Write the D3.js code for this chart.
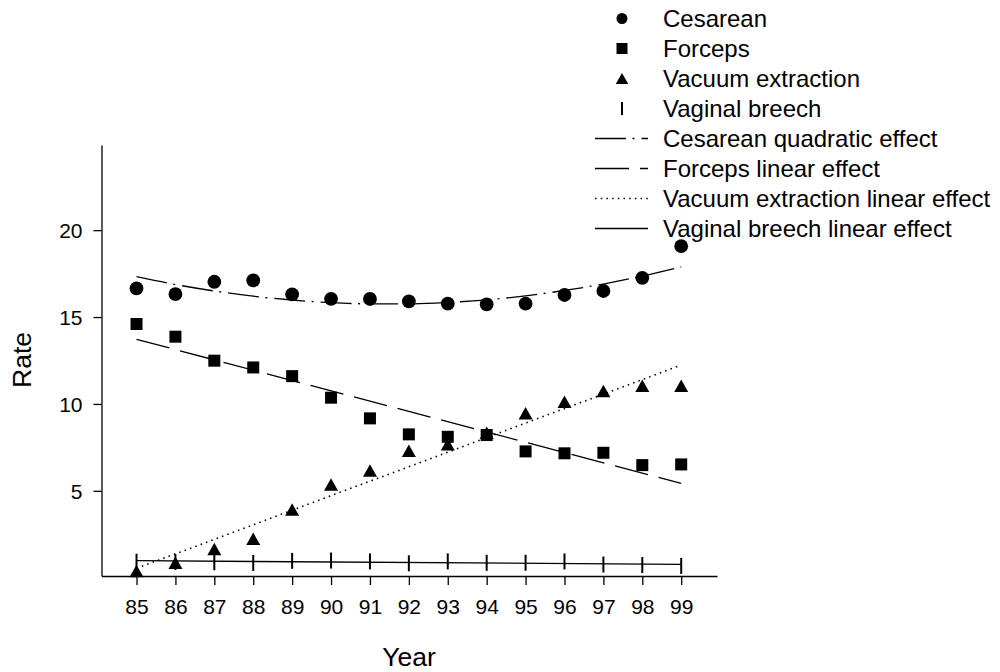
<!DOCTYPE html>
<html>
<head>
<meta charset="utf-8">
<script src="https://cdn.jsdelivr.net/npm/d3@7"></script>
<style>
  html, body { margin: 0; padding: 0; background: #fff; }
  svg { display: block; font-family: "Liberation Sans", Arial, sans-serif; }
</style>
</head>
<body>
<svg id="chart" width="1000" height="672"></svg>
<script>
// ---- data ----
const years = [85, 86, 87, 88, 89, 90, 91, 92, 93, 94, 95, 96, 97, 98, 99];
const cesarean = [16.65, 16.32, 17.03, 17.11, 16.31, 16.05, 16.04, 15.9, 15.77, 15.73, 15.77, 16.27, 16.5, 17.26, 19.08];
const forceps = [14.6, 13.87, 12.49, 12.1, 11.6, 10.36, 9.17, 8.25, 8.11, 8.21, 7.27, 7.16, 7.19, 6.48, 6.52];
const vacuum = [0.39, 0.86, 1.66, 2.24, 3.92, 5.36, 6.17, 7.3, 7.68, 8.34, 9.47, 10.12, 10.75, 11.04, 11.04];
const breech = [0.92, 0.9, 0.89, 0.85, 0.97, 0.99, 0.94, 0.83, 0.94, 0.86, 0.86, 0.94, 0.76, 0.73, 0.68];
const cesareanFit = [17.32, 16.87, 16.50, 16.20, 15.98, 15.83, 15.76, 15.76, 15.84, 15.99, 16.22, 16.53, 16.90, 17.36, 17.89];
const fitYears = [85, 99];
const forcepsFit = [13.72, 5.43];
const vacuumFit = [0.54, 12.24];
const breechFit = [0.98, 0.77];
const yTicks = [5, 10, 15, 20];
const legendLabels = ["Cesarean", "Forceps", "Vacuum extraction", "Vaginal breech",
  "Cesarean quadratic effect", "Forceps linear effect", "Vacuum extraction linear effect", "Vaginal breech linear effect"];

// ---- drawing ----
const svg = d3.select("#chart");
const x = d3.scaleLinear().domain([84.1, 99.92]).range([101.5, 717]);
const y = d3.scaleLinear().domain([0.1, 24.9]).range([576, 145]);

const fontTick = 21;

// axes
const gx = svg.append("g").attr("transform", `translate(0,${y.range()[0]})`)
  .call(d3.axisBottom(x).tickValues(years).tickSize(9).tickSizeOuter(0).tickFormat(d => d));
gx.selectAll("text").attr("y", 31).attr("dy", "0.35em").attr("font-size", fontTick)
  .attr("font-family", "Liberation Sans, Arial, sans-serif").attr("fill", "#000");
const gy = svg.append("g").attr("transform", `translate(${x.range()[0]},0)`)
  .call(d3.axisLeft(y).tickValues(yTicks).tickSize(8).tickSizeOuter(0).tickFormat(d => d));
gy.selectAll("text").attr("x", -19).attr("dy", "0.35em").attr("font-size", fontTick)
  .attr("font-family", "Liberation Sans, Arial, sans-serif").attr("fill", "#000");
svg.selectAll(".domain, .tick line").attr("stroke", "#000").attr("stroke-width", 1.3);

// axis titles
svg.append("text").attr("x", 409).attr("y", 657).attr("dy", "0.35em")
  .attr("text-anchor", "middle").attr("font-size", 26.5).text("Year");
svg.append("text").attr("transform", "translate(22,360) rotate(-90)").attr("dy", "0.35em")
  .attr("text-anchor", "middle").attr("font-size", 26.5).text("Rate");

// fit lines
const lineStyles = {
  ces: "31,6.5,2,7",
  forc: "34,11",
  vac: "1.5,4.2",
  br: null
};
const curveLine = d3.line().x(d => x(d[0])).y(d => y(d[1])).curve(d3.curveMonotoneX);
const lines = svg.append("g").attr("fill", "none").attr("stroke", "#000").attr("stroke-width", 1.3);
lines.append("path").attr("d", curveLine(years.map((yr, i) => [yr, cesareanFit[i]])))
  .attr("stroke-dasharray", lineStyles.ces);
lines.append("path").attr("d", curveLine(fitYears.map((yr, i) => [yr, forcepsFit[i]])))
  .attr("stroke-dasharray", lineStyles.forc);
lines.append("path").attr("d", curveLine(fitYears.map((yr, i) => [yr, vacuumFit[i]])))
  .attr("stroke-dasharray", lineStyles.vac).attr("stroke-width", 1.6);
lines.append("path").attr("d", curveLine(fitYears.map((yr, i) => [yr, breechFit[i]])));

// marker shapes
function triPath(cx, cy, w, h) {
  return `M${cx},${cy - h / 2}L${cx + w / 2},${cy + h / 2}L${cx - w / 2},${cy + h / 2}Z`;
}
const marks = svg.append("g");
// breech markers
marks.selectAll(".br").data(years).join("line")
  .attr("x1", (d) => x(d)).attr("x2", (d) => x(d))
  .attr("y1", (d, i) => y(breech[i]) - 8).attr("y2", (d, i) => y(breech[i]) + 8)
  .attr("stroke", "#000").attr("stroke-width", 2);
// vacuum triangles
marks.selectAll(".vac").data(years).join("path")
  .attr("d", (d, i) => triPath(x(d), y(vacuum[i]), 14, 12.5)).attr("fill", "#000");
// forceps squares
marks.selectAll(".forc").data(years).join("rect")
  .attr("x", d => x(d) - 6).attr("y", (d, i) => y(forceps[i]) - 6)
  .attr("width", 12).attr("height", 12).attr("fill", "#000");
// cesarean circles
marks.selectAll(".ces").data(years).join("circle")
  .attr("cx", d => x(d)).attr("cy", (d, i) => y(cesarean[i])).attr("r", 6.9).attr("fill", "#000");

// legend
const leg = svg.append("g");
const rowY = i => 18.5 + 30 * i;
const symX = 622, lx0 = 595, lx1 = 648, textX = 663;
leg.append("circle").attr("cx", symX).attr("cy", rowY(0)).attr("r", 5.5).attr("fill", "#000");
leg.append("rect").attr("x", symX - 5.5).attr("y", rowY(1) - 5.5).attr("width", 11).attr("height", 11).attr("fill", "#000");
leg.append("path").attr("d", triPath(symX, rowY(2), 12.5, 11)).attr("fill", "#000");
leg.append("line").attr("x1", symX).attr("x2", symX).attr("y1", rowY(3) - 6.5).attr("y2", rowY(3) + 6.5)
  .attr("stroke", "#000").attr("stroke-width", 2);
const legDash = [lineStyles.ces, lineStyles.forc, lineStyles.vac, lineStyles.br];
legDash.forEach((da, j) => {
  const l = leg.append("line").attr("x1", lx0).attr("x2", lx1)
    .attr("y1", rowY(4 + j)).attr("y2", rowY(4 + j))
    .attr("stroke", "#000").attr("stroke-width", j === 2 ? 1.6 : 1.3);
  if (da) l.attr("stroke-dasharray", da);
});
leg.selectAll("text").data(legendLabels).join("text")
  .attr("x", textX).attr("y", (d, i) => rowY(i)).attr("dy", "0.35em")
  .attr("font-size", 24).attr("fill", "#000").text(d => d);
</script>
</body>
</html>
